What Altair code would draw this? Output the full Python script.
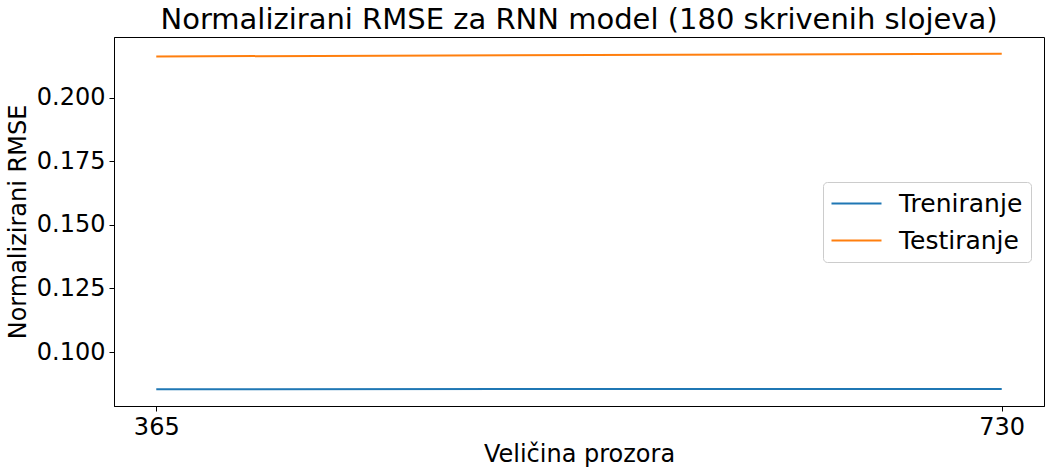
import altair as alt
import pandas as pd

window_sizes = [365, 730]
train_rmse = [0.08537, 0.08549]
test_rmse = [0.2162, 0.21725]
series_names = ["Treniranje", "Testiranje"]
y_ticks = [0.100, 0.125, 0.150, 0.175, 0.200]
x_ticks = [365, 730]

rows = []
for w, v in zip(window_sizes, train_rmse):
    rows.append({"Veličina prozora": w, "RMSE": v, "Skup": series_names[0]})
for w, v in zip(window_sizes, test_rmse):
    rows.append({"Veličina prozora": w, "RMSE": v, "Skup": series_names[1]})
df = pd.DataFrame(rows)

FONT = "DejaVu Sans"

chart = alt.Chart(df).mark_line(strokeWidth=2).encode(
    x=alt.X("Veličina prozora:Q",
            scale=alt.Scale(domain=[346.75, 748.25], nice=False, zero=False),
            axis=alt.Axis(values=x_ticks, format="d", grid=False, title="Veličina prozora",
                          labelFontSize=24, titleFontSize=24, tickSize=5,
                          labelPadding=4, titlePadding=3)),
    y=alt.Y("RMSE:Q",
            scale=alt.Scale(domain=[0.07878, 0.22384], nice=False, zero=False),
            axis=alt.Axis(values=y_ticks, format=".3f", grid=False, title="Normalizirani RMSE",
                          labelFontSize=24, titleFontSize=24, tickSize=5,
                          labelPadding=4, titlePadding=6)),
    color=alt.Color("Skup:N",
                    scale=alt.Scale(domain=series_names, range=["#1f77b4", "#ff7f0e"]),
                    sort=series_names,
                    legend=alt.Legend(title=None, orient="none", legendX=709, legendY=145,
                                      symbolType="M-2,0H2", symbolSize=625, symbolStrokeWidth=2,
                                      symbolOffset=12,
                                      labelFontSize=25, labelOffset=29, padding=8,
                                      rowPadding=10,
                                      fillColor="white", strokeColor="#cccccc",
                                      cornerRadius=4)),
).properties(
    width=930,
    height=369,
    title=alt.TitleParams("Normalizirani RMSE za RNN model (180 skrivenih slojeva)",
                          fontSize=29, font=FONT, fontWeight="normal", color="black",
                          offset=2, anchor="middle"),
    autosize=alt.AutoSizeParams(type="none"),
    padding={"left": 114, "top": 37, "right": 7, "bottom": 70},
).configure(
    font=FONT,
).configure_view(
    stroke="black", strokeWidth=1,
).configure_axis(
    labelFont=FONT, titleFont=FONT, labelColor="black", titleColor="black",
    titleFontWeight="normal", domainColor="black", tickColor="black",
).configure_legend(
    labelFont=FONT, labelColor="black",
)

chart.save("out.html", embed_options={"renderer": "svg", "actions": False})
